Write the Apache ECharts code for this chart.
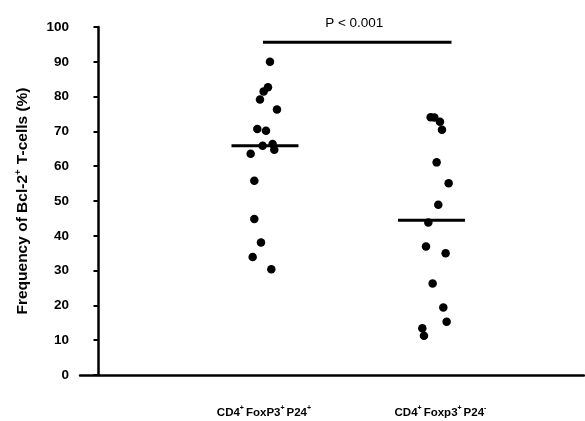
<!DOCTYPE html>
<html>
<head>
<meta charset="utf-8">
<script src="https://cdn.jsdelivr.net/npm/echarts@6/dist/echarts.min.js"></script>
<style>
html,body{margin:0;padding:0;background:#fff;}
#chart{width:585px;height:421px;}
</style>
</head>
<body>
<div id="chart"></div>
<script>
// ---- data ----
const groupPositions = [1, 2];
const categoryLabels = [
  '{b|CD4}{s|+}{b|FoxP3}{s|+}{b|P24}{s|+}',
  '{pad|}{b|CD4}{s|+}{b|Foxp3}{s|+}{b|P24}{s|-}'
];
const group1Values = [90, 82.7, 81.5, 79.2, 76.3, 70.7, 70.2, 65.9, 66.4, 64.7, 63.6, 55.8, 44.8, 38.1, 33.9, 30.4];
const group1Jitter = [0.030, 0.018, -0.008, -0.030, 0.072, -0.046, 0.006, -0.014, 0.046, 0.056, -0.086, -0.064, -0.064, -0.024, -0.074, 0.038];
const group2Values = [74.1, 74.0, 72.8, 70.5, 61.1, 55.1, 48.9, 43.8, 36.9, 35.0, 26.3, 19.4, 15.3, 13.4, 11.3];
const group2Jitter = [-0.005, 0.017, 0.051, 0.063, 0.031, 0.103, 0.041, -0.019, -0.033, 0.085, 0.007, 0.071, 0.091, -0.055, -0.045];
const medians = [65.9, 44.5];
const yTicks = [0, 10, 20, 30, 40, 50, 60, 70, 80, 90, 100];
const pValueText = 'P < 0.001';
const sigBarLevel = 95.6;

// ---- chart ----
const FONT = "'Liberation Sans', Arial, sans-serif";
const chart = echarts.init(document.getElementById('chart'), null, {renderer: 'canvas'});

const scatter1 = group1Values.map((v, i) => [groupPositions[0] + group1Jitter[i], v]);
const scatter2 = group2Values.map((v, i) => [groupPositions[1] + group2Jitter[i], v]);
const medianData = medians.map((m, i) => [groupPositions[i], m]);

const richLabel = {
  b: {fontFamily: FONT, fontWeight: 'bold', fontSize: 11.5, color: '#000', lineHeight: 16},
  s: {fontFamily: FONT, fontWeight: 'bold', fontSize: 7, color: '#000', lineHeight: 9, verticalAlign: 'top', padding: [0, 2, 0, 0]},
  pad: {width: 20}
};

const option = {
  backgroundColor: '#fff',
  animation: false,
  grid: {left: 80, right: 1, top: 27, bottom: 46, containLabel: false},
  xAxis: {
    type: 'value',
    min: -0.111,
    max: 2.916,
    splitLine: {show: false},
    axisTick: {show: false},
    axisLine: {show: true, onZero: false, lineStyle: {color: '#000', width: 2.5}},
    axisLabel: {
      show: true,
      customValues: groupPositions,
      margin: 30,
      formatter: function (v) {
        const idx = groupPositions.indexOf(Math.round(v));
        return idx >= 0 ? categoryLabels[idx] : '';
      },
      rich: richLabel
    }
  },
  yAxis: {
    type: 'value',
    min: 0,
    max: 100,
    interval: 10,
    splitLine: {show: false},
    axisLine: {show: true, lineStyle: {color: '#000', width: 2.5}},
    axisTick: {show: true, length: 5, lineStyle: {color: '#000', width: 2}},
    axisLabel: {
      color: '#000', fontFamily: FONT, fontWeight: 'bold', fontSize: 13.5, margin: 11,
      formatter: function (v) { return yTicks.indexOf(v) >= 0 ? String(v) : ''; }
    },
    name: '{b|Frequency of Bcl-2}{s|+}{b| T-cells (%)}',
    nameLocation: 'middle',
    nameRotate: 90,
    nameGap: 47,
    nameTextStyle: {
      rich: {
        b: {fontFamily: FONT, fontWeight: 'bold', fontSize: 15.5, color: '#000', lineHeight: 20},
        s: {fontFamily: FONT, fontWeight: 'bold', fontSize: 9.5, color: '#000', lineHeight: 12, verticalAlign: 'top', padding: [0, 1, 0, 0]}
      }
    }
  },
  series: [
    {
      type: 'scatter',
      data: scatter1,
      symbol: 'circle',
      symbolSize: 8.5,
      itemStyle: {color: '#000', opacity: 1},
      z: 3
    },
    {
      type: 'scatter',
      data: scatter2,
      symbol: 'circle',
      symbolSize: 8.5,
      itemStyle: {color: '#000', opacity: 1},
      z: 3
    },
    {
      type: 'custom',
      data: medianData,
      z: 4,
      renderItem: function (params, api) {
        const p = api.coord([api.value(0), api.value(1)]);
        return {
          type: 'line',
          shape: {x1: p[0] - 33.5, y1: p[1], x2: p[0] + 33.5, y2: p[1]},
          style: {stroke: '#000', lineWidth: 3}
        };
      }
    },
    {
      type: 'custom',
      data: [[groupPositions[0], groupPositions[1], sigBarLevel]],
      z: 4,
      renderItem: function (params, api) {
        const a = api.coord([api.value(0), api.value(2)]);
        const b = api.coord([api.value(1), api.value(2)]);
        const x1 = a[0] - 2, x2 = b[0] + 20;
        return {
          type: 'group',
          children: [
            {
              type: 'line',
              shape: {x1: x1, y1: a[1], x2: x2, y2: a[1]},
              style: {stroke: '#000', lineWidth: 3}
            },
            {
              type: 'text',
              x: (x1 + x2) / 2 - 3,
              y: a[1] - 19,
              style: {
                text: pValueText, fill: '#000', font: '13.5px ' + FONT,
                align: 'center', verticalAlign: 'middle'
              }
            }
          ]
        };
      }
    }
  ]
};
chart.setOption(option);
</script>
</body>
</html>
